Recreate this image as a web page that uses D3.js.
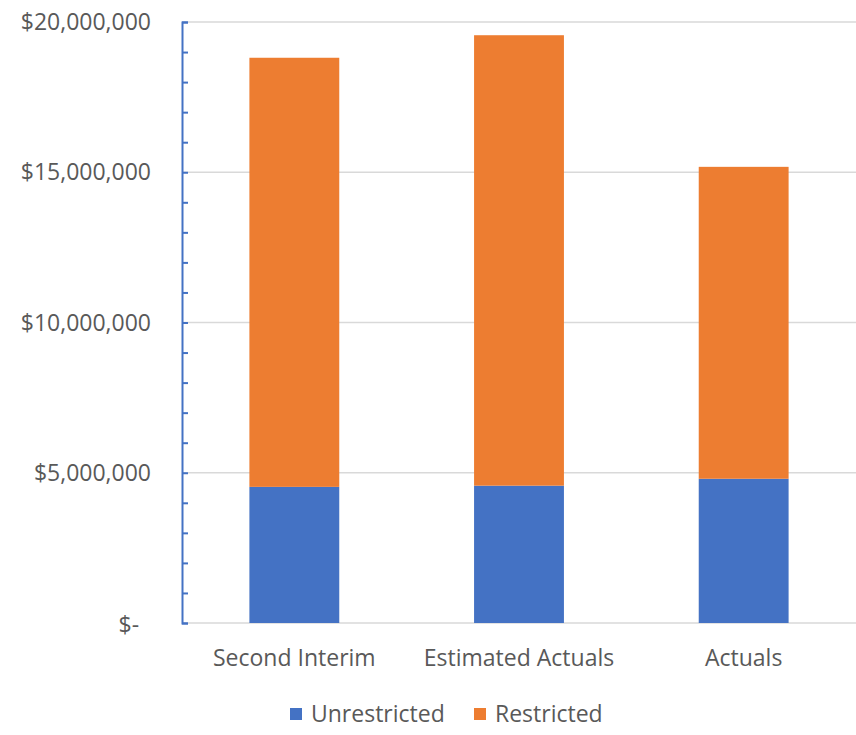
<!DOCTYPE html>
<html>
<head>
<meta charset="utf-8">
<script src="https://cdn.jsdelivr.net/npm/d3@7"></script>
<style>
  body { margin: 0; background: #fff; }
  text { font-family: "Open Sans", "Noto Sans", sans-serif; fill: #595959; }
</style>
</head>
<body>
<div id="chart-area"></div>
<script>
// --- Data ---
var categories = ["Second Interim", "Estimated Actuals", "Actuals"];
var unrestricted = [4530000, 4570000, 4800000];
var restricted = [14280000, 14990000, 10380000];
var seriesNames = ["Unrestricted", "Restricted"];
var yTicks = [0, 5000000, 10000000, 15000000, 20000000];
var yTickLabels = ["$-\u00a0\u00a0", "$5,000,000", "$10,000,000", "$15,000,000", "$20,000,000"];

var colors = {Unrestricted: "#4472C4", Restricted: "#ED7D31"};

// --- Canvas ---
var W = 856, H = 735;
var margins = {top: 22, bottom: 112, left: 182, right: 0};

var svg = d3.select("#chart-area").append("svg")
    .attr("width", W)
    .attr("height", H);

// --- Scales ---
var x = d3.scaleBand()
    .domain(categories)
    .range([margins.left, W - margins.right])
    .paddingInner(0.6)
    .paddingOuter(0.3);

var y = d3.scaleLinear()
    .domain([0, 20000000])
    .range([H - margins.bottom, margins.top]);

// gridlines
svg.append("g").selectAll("line")
    .data(yTicks)
    .enter().append("line")
        .attr("x1", margins.left)
        .attr("x2", W)
        .attr("y1", (d) => y(d))
        .attr("y2", (d) => y(d))
        .attr("stroke", "#d9d9d9")
        .attr("stroke-width", 1.5);

// --- Stacked bars ---
var rows = categories.map((c, i) => ({cat: c, Unrestricted: unrestricted[i], Restricted: restricted[i]}));
var stacked = d3.stack().keys(seriesNames)(rows);

svg.append("g").selectAll("g")
    .data(stacked)
    .enter().append("g")
        .attr("fill", (d) => colors[d.key])
    .selectAll("rect")
    .data((d) => d)
    .enter().append("rect")
        .attr("x", (d) => x(d.data.cat))
        .attr("width", x.bandwidth())
        .attr("y", (d) => y(d[1]))
        .attr("height", (d) => y(d[0]) - y(d[1]));

// --- y axis (blue line, minor ticks inside) ---
var yAxis = d3.axisRight(y)
    .ticks(20)
    .tickSize(6)
    .tickFormat("");
var yAxisGroup = svg.append("g")
    .attr("transform", "translate(" + margins.left + ",0)")
    .call(yAxis);
yAxisGroup.select(".domain").attr("stroke", "#4472C4").attr("stroke-width", 2);
yAxisGroup.selectAll(".tick line").attr("stroke", "#4472C4").attr("stroke-width", 2);

// y labels
svg.append("g").selectAll("text")
    .data(yTicks)
    .enter().append("text")
        .attr("x", 151)
        .attr("y", (d) => y(d))
        .attr("dy", (d) => d === 0 ? "0.45em" : "0.35em")
        .attr("text-anchor", "end")
        .attr("font-size", "23px")
        .text((d, i) => yTickLabels[i]);

// x labels
svg.append("g").selectAll("text")
    .data(categories)
    .enter().append("text")
        .attr("x", (d) => x(d) + x.bandwidth() / 2)
        .attr("y", 658)
        .attr("dy", "0.35em")
        .attr("text-anchor", "middle")
        .attr("font-size", "23px")
        .text((d) => d);

// --- Legend ---
var legendX = [290, 474];
var legend = svg.append("g").selectAll("g")
    .data(seriesNames)
    .enter().append("g")
        .attr("transform", (d, i) => "translate(" + legendX[i] + ",714)");
legend.append("rect")
    .attr("x", 0)
    .attr("y", -6)
    .attr("width", 12)
    .attr("height", 12)
    .attr("fill", (d) => colors[d]);
legend.append("text")
    .attr("x", 21)
    .attr("dy", "0.35em")
    .attr("font-size", "23px")
    .text((d) => d);
</script>
</body>
</html>
